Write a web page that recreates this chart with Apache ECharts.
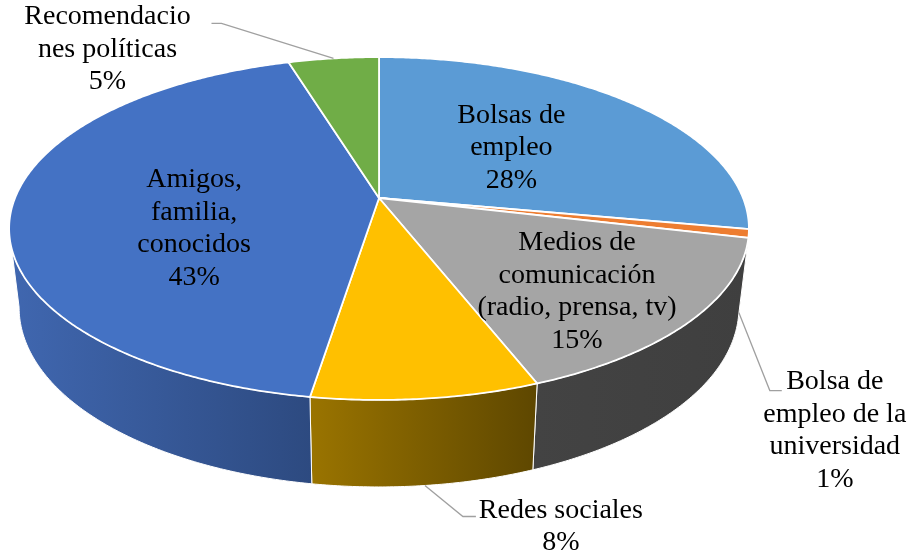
<!DOCTYPE html>
<html>
<head>
<meta charset="utf-8">
<script src="https://cdn.jsdelivr.net/npm/echarts@6/dist/echarts.min.js"></script>
<style>
  html, body { margin: 0; padding: 0; background: #fff; }
  #main { width: 912px; height: 554px; }
</style>
</head>
<body>
<div id="main"></div>
<script>
    // slices, clockwise from 12 o'clock
    var categories = ['Bolsas de empleo', 'Bolsa de empleo de la universidad',
        'Medios de comunicación (radio, prensa, tv)', 'Redes sociales',
        'Amigos, familia, conocidos', 'Recomendaciones políticas'];
    var labelLines = ['Bolsas de\nempleo', 'Bolsa de\nempleo de la\nuniversidad',
        'Medios de\ncomunicación\n(radio, prensa, tv)', 'Redes sociales',
        'Amigos,\nfamilia,\nconocidos', 'Recomendacio\nnes políticas'];
    var shares = [27.9, 0.8, 15.4, 8.4, 42.8, 4.7];

    // styles
    var topColors = ['#5B9BD5', '#ED7D31', '#A5A5A5', '#FFC000', '#4472C4', '#70AD47'];
    var wallColors = [['#36618a', '#36618a'], ['#8a4a1c', '#6b3a16'], ['#434343', '#3f3f3f'],
        ['#9a7400', '#5e4700'], ['#4067b0', '#2d4a80'], ['#48702e', '#48702e']];

    // inside labels: r along mid angle (+dy); outside: leader from anchor
    var labelPos = [
        { r: 0.5, dy: 0 },
        { anchor: 'wall', elbow: [31, 78], tail: 12, text: [96, 118] },
        { r: 0.665, dy: 15 },
        { anchor: 'wall', elbow: [38, 31], tail: 13, text: [136, 41] },
        { r: 0.506, dy: 25 },
        { anchor: 'top', elbow: [-112, -35], tail: -10, text: [-226, -9] }
    ];

    // tilted disc, simple perspective
    var pie = { cx: 0.4156, cy: 0.3574, rx: 364, ry: 166, k: 0.178, shrink: 0.973, depth: 77, depthFront: 10 };

    var total = shares.reduce(function (a, b) { return a + b; }, 0);
    var starts = [];
    var acc = 0;
    for (var i = 0; i < shares.length; i++) {
        starts.push(acc / total * 360);
        acc += shares[i];
    }
    var edge = Math.asin(pie.k) * 180 / Math.PI;
    var visFrom = 90 + edge, visTo = 270 - edge;

    function project(w, h, theta, r) {
        var t = theta * Math.PI / 180;
        var u = Math.sin(t) * r, v = -Math.cos(t) * r;
        var f = 1 / (1 - pie.k * v);
        return [w * pie.cx + pie.rx * u * f, h * pie.cy + pie.ry * v * f, v];
    }
    function bottomOf(w, p) {
        var cx = w * pie.cx;
        return [cx + pie.shrink * (p[0] - cx), p[1] + pie.depth + pie.depthFront * p[2]];
    }

    function renderWall(params, api) {
        var i = params.dataIndex;
        var w = api.getWidth(), h = api.getHeight();
        var a0 = Math.max(starts[i], visFrom);
        var a1 = Math.min(starts[i] + api.value(0) / total * 360, visTo);
        if (a1 <= a0) return { type: 'group', children: [] };
        var top = [], bot = [];
        var n = Math.max(2, Math.ceil((a1 - a0) / 0.5));
        for (var s = 0; s <= n; s++) {
            var p = project(w, h, a0 + (a1 - a0) * s / n, 1);
            top.push([p[0], p[1]]);
            bot.push(bottomOf(w, p));
        }
        var xs = top.concat(bot).map(function (q) { return q[0]; });
        var minX = Math.min.apply(null, xs), maxX = Math.max.apply(null, xs);
        return {
            type: 'polygon',
            shape: { points: top.concat(bot.reverse()) },
            style: {
                fill: {
                    type: 'linear', x: minX, y: 0, x2: maxX, y2: 0, global: true,
                    colorStops: [{ offset: 0, color: wallColors[i][0] }, { offset: 1, color: wallColors[i][1] }]
                },
                stroke: '#fff', lineWidth: 1
            }
        };
    }

    function renderTop(params, api) {
        var i = params.dataIndex;
        var w = api.getWidth(), h = api.getHeight();
        var a0 = starts[i], a1 = a0 + api.value(0) / total * 360;
        var c = project(w, h, 0, 0);
        var pts = [[c[0], c[1]]];
        var n = Math.max(2, Math.ceil((a1 - a0) / 0.5));
        for (var s = 0; s <= n; s++) {
            var p = project(w, h, a0 + (a1 - a0) * s / n, 1);
            pts.push([p[0], p[1]]);
        }
        return {
            type: 'polygon',
            shape: { points: pts },
            style: { fill: topColors[i], stroke: '#fff', lineWidth: 1.8 }
        };
    }

    // labels and leader lines, placed from the same projection
    function buildLabels(w, h) {
        var out = [];
        shares.forEach(function (val, i) {
            var a0 = starts[i], a1 = a0 + val / total * 360;
            var mid = (a0 + a1) / 2;
            var lp = labelPos[i];
            var tx, ty;
            if (lp.r !== undefined) {
                var m = project(w, h, mid, lp.r);
                tx = m[0];
                ty = m[1] + lp.dy;
            } else {
                var a = project(w, h, mid, 1);
                var anc = lp.anchor === 'wall' ? bottomOf(w, a) : [a[0], a[1]];
                var el = [anc[0] + lp.elbow[0], anc[1] + lp.elbow[1]];
                out.push({
                    type: 'polyline',
                    z: 10,
                    shape: { points: [anc, el, [el[0] + lp.tail, el[1]]] },
                    style: { stroke: '#A0A0A0', lineWidth: 1.3, fill: null }
                });
                tx = anc[0] + lp.text[0];
                ty = anc[1] + lp.text[1];
            }
            out.push({
                type: 'text',
                z: 11,
                x: tx,
                y: ty,
                style: {
                    text: labelLines[i] + '\n' + Math.round(val / total * 100) + '%',
                    fontFamily: 'Liberation Serif', fontSize: 28, fill: '#000',
                    align: 'center', verticalAlign: 'middle',
                    textAlign: 'center', textVerticalAlign: 'middle', lineHeight: 32.5
                }
            });
        });
        return out;
    }

    var seriesData = shares.map(function (v, i) { return { name: categories[i], value: v }; });

    var chartDom = document.getElementById('main');
    var myChart = echarts.init(chartDom);
    var option = {
        animation: false,
        backgroundColor: '#fff',
        series: [{
            type: 'custom',
            coordinateSystem: 'none',
            renderItem: renderWall,
            data: seriesData,
            z: 1
        }, {
            type: 'custom',
            coordinateSystem: 'none',
            renderItem: renderTop,
            data: seriesData,
            z: 2
        }],
        graphic: buildLabels(myChart.getWidth(), myChart.getHeight())
    };
    myChart.setOption(option);
</script>
</body>
</html>
